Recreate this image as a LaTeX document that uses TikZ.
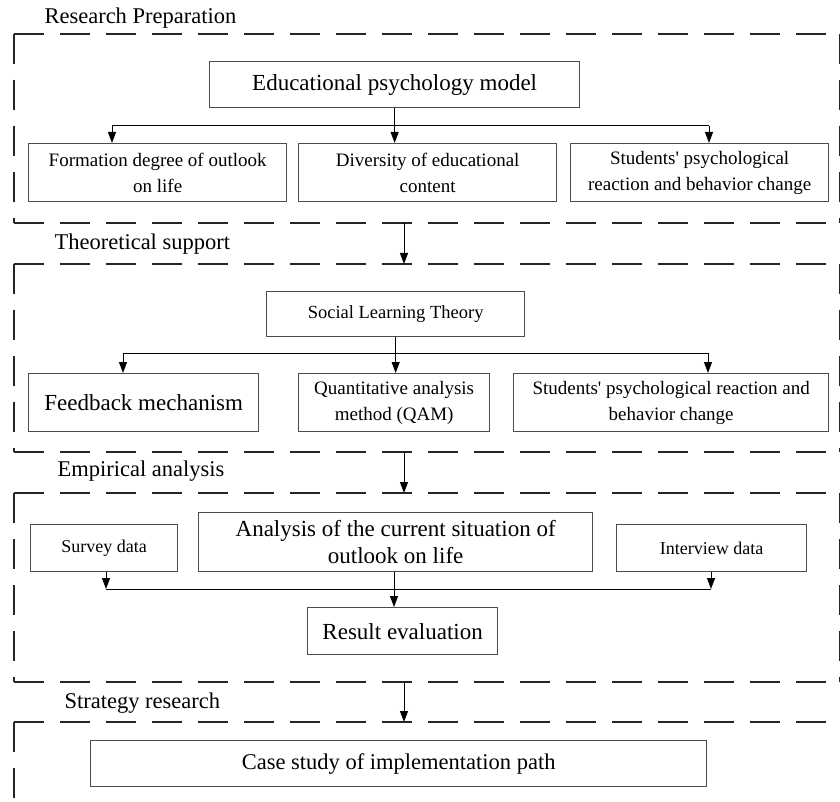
\documentclass[tikz,border=0pt]{standalone}
\usepackage{fontspec}
\setmainfont{Liberation Serif}
\usetikzlibrary{arrows.meta}
\newlength{\du}
\setlength{\du}{1pt}

\begin{document}
\begin{tikzpicture}[x=\du,y=-\du,
  stagearea/.style={anchor=north west,inner sep=0pt,outer sep=0pt},
  stageline/.style={draw=black!85,line width=1.9pt,dash pattern=on 30pt off 16pt},
  block/.style={draw=black!70,line width=1.3pt,align=center,anchor=north west,inner sep=0pt},
  flow/.style={-{Triangle[length=11pt,width=8pt]},line width=1pt},
  branch/.style={line width=1pt},
  stagelabel/.style={anchor=west,font=\fontsize{22.5}{26}\selectfont}]
\useasboundingbox (0,0) rectangle (840,802);
\clip (0,0) rectangle (840,802);

% stages
\node[stagearea,minimum width=826.3\du,minimum height=189\du] (st1) at (14,34) {};
\node[stagearea,minimum width=826.3\du,minimum height=188\du] (st2) at (14,264) {};
\node[stagearea,minimum width=826.3\du,minimum height=189\du] (st3) at (14,493) {};
\node[stagearea,minimum width=826.3\du,minimum height=188\du] (st4) at (14,722) {};
\draw[stageline] (st1.north west) -- (st1.north east) (st1.north west) -- (st1.south west) (st1.south west) -- (st1.south east) (st1.north east) -- (st1.south east);
\draw[stageline] (st2.north west) -- (st2.north east) (st2.north west) -- (st2.south west) (st2.south west) -- (st2.south east) (st2.north east) -- (st2.south east);
\draw[stageline] (st3.north west) -- (st3.north east) (st3.north west) -- (st3.south west) (st3.south west) -- (st3.south east) (st3.north east) -- (st3.south east);
\draw[stageline] (st4.north west) -- (st4.north east) (st4.north west) -- (st4.south west);
\node[stagelabel] (lab1) at (41,18) {Research Preparation};
\node[stagelabel] (lab2) at (51,244) {Theoretical support};
\node[stagelabel] (lab3) at (54,471) {Empirical analysis};
\node[stagelabel] (lab4) at (61,703) {Strategy research};
\coordinate (gate) at (404,0);
\draw[flow] (gate |- st1.south) -- (gate |- st2.north);
\draw[flow] (gate |- st2.south) -- (gate |- st3.north);
\draw[flow] (gate |- st3.south) -- (gate |- st4.north);

% research preparation
\node[block,minimum width=370\du,minimum height=46\du,font=\fontsize{23}{27}\selectfont] (edu) at (209,61) {Educational psychology model};
\node[block,minimum width=258\du,minimum height=58\du,font=\fontsize{19}{26}\selectfont] (form) at (28,143) {Formation degree of outlook\\on life};
\node[block,minimum width=258\du,minimum height=58\du,font=\fontsize{19}{26}\selectfont] (div) at (298,143) {Diversity of educational\\content};
\node[block,minimum width=258\du,minimum height=58\du,font=\fontsize{19}{26}\selectfont] (stu) at (570,143) {Students\textquotesingle{} psychological\\reaction and behavior change};
\coordinate (t1l) at (112,126);
\coordinate (t1r) at (709,126);
\draw[branch] (t1l) -- (t1r);
\draw[flow] (edu.south) -- (edu.south |- div.north);
\draw[flow] (t1l) -- (t1l |- form.north);
\draw[flow] (t1r) -- (t1r |- stu.north);

% theoretical support
\node[block,minimum width=258\du,minimum height=45\du,font=\fontsize{18.5}{22}\selectfont] (slt) at (266,291) {Social Learning Theory};
\node[block,minimum width=230\du,minimum height=58\du,font=\fontsize{23}{27}\selectfont] (feed) at (28,373) {Feedback mechanism};
\node[block,minimum width=191\du,minimum height=58\du,font=\fontsize{19}{26}\selectfont] (qam) at (298,373) {Quantitative analysis\\method (QAM)};
\node[block,minimum width=315\du,minimum height=58\du,font=\fontsize{19}{26}\selectfont] (stu2) at (513,373) {Students\textquotesingle{} psychological reaction and\\behavior change};
\coordinate (t2l) at (123,353);
\coordinate (t2r) at (708,353);
\draw[branch] (t2l) -- (t2r);
\draw[flow] (slt.south) -- (slt.south |- qam.north);
\draw[flow] (t2l) -- (t2l |- feed.north);
\draw[flow] (t2r) -- (t2r |- stu2.north);

% empirical analysis
\node[block,minimum width=147\du,minimum height=47\du,font=\fontsize{18}{22}\selectfont] (survey) at (30,524) {Survey data};
\node[block,minimum width=394\du,minimum height=59\du,font=\fontsize{23}{27}\selectfont] (situ) at (198,512) {Analysis of the current situation of\\outlook on life};
\node[block,minimum width=190\du,minimum height=47\du,font=\fontsize{18}{22}\selectfont] (inter) at (616,524) {Interview data};
\node[block,minimum width=190\du,minimum height=47\du,font=\fontsize{23}{27}\selectfont] (result) at (307,607) {Result evaluation};
\coordinate (t3l) at (106,589);
\coordinate (t3r) at (711,589);
\draw[branch] (t3l) -- (t3r);
\draw[flow] (t3l |- survey.south) -- (t3l);
\draw[flow] (t3r |- inter.south) -- (t3r);
\draw[flow] (situ.south -| 394,0) -- (394,0 |- result.north);

% strategy research
\node[block,minimum width=616\du,minimum height=46\du,font=\fontsize{22.5}{26}\selectfont] (case) at (90,740) {Case study of implementation path};
\end{tikzpicture}
\end{document}
